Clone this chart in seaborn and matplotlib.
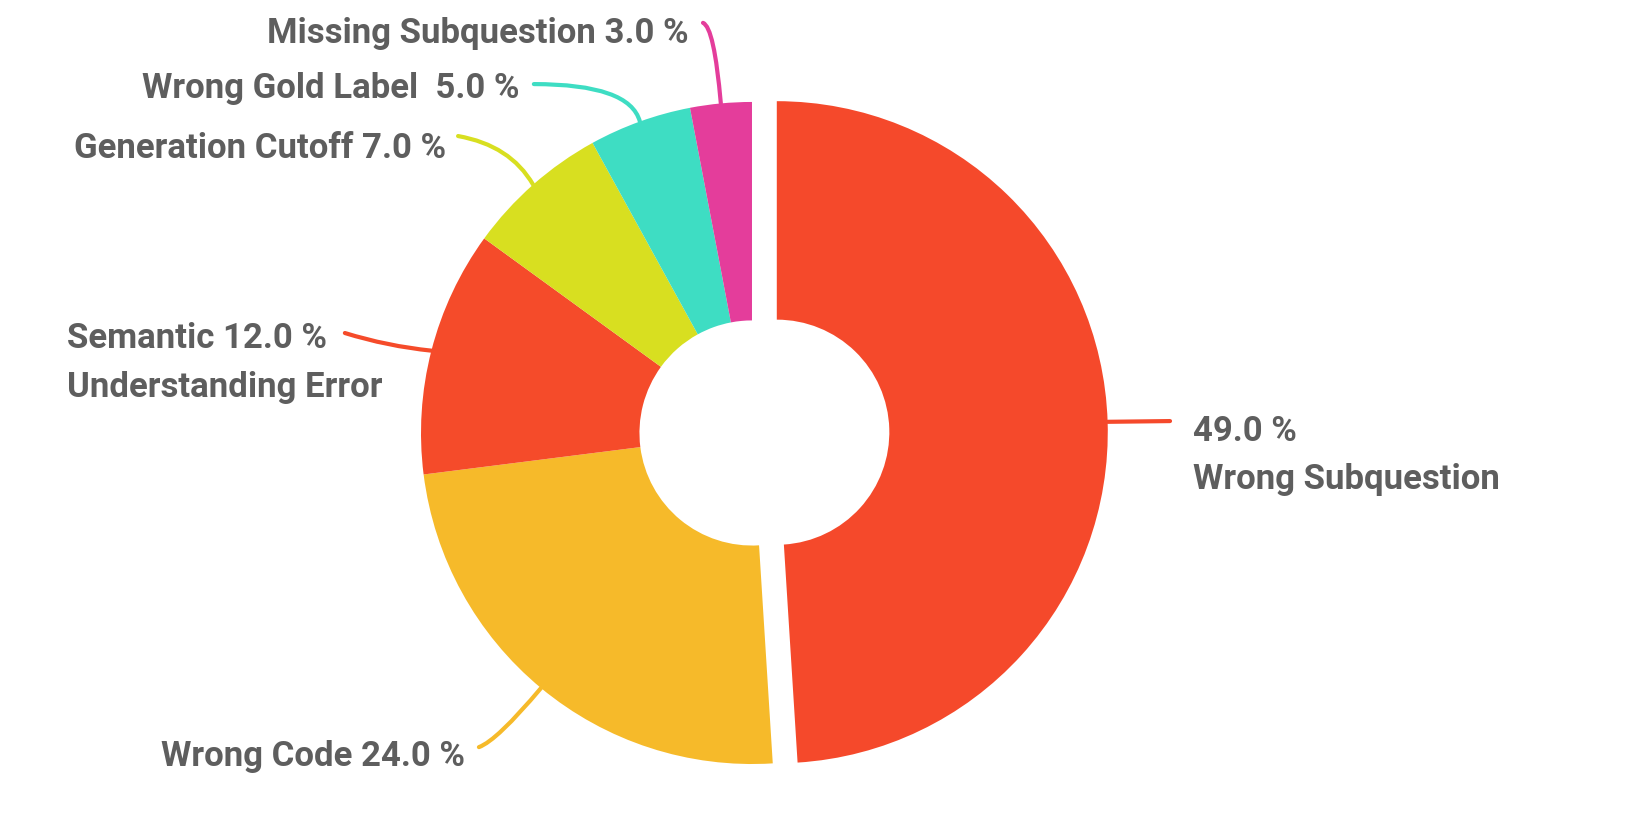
import numpy as np
import matplotlib
matplotlib.use("Agg")
import matplotlib.pyplot as plt
import seaborn as sns

# error categories, clockwise from 12 o'clock
categories = ["Wrong Subquestion", "Wrong Code", "Semantic\nUnderstanding Error",
              "Generation Cutoff", "Wrong Gold Label", "Missing Subquestion"]
shares = [49.0, 24.0, 12.0, 7.0, 5.0, 3.0]
colors = ["#F5492B", "#F6BA2A", "#F54B2A", "#D8DF20", "#3EDDC3", "#E43D9B"]

sns.set_theme(style="white")
plt.rcParams["font.family"] = ["Roboto", "DejaVu Sans"]
txt_color = "#5E5E5E"

fig = plt.figure(figsize=(16.41, 8.14), dpi=100)
ax = fig.add_axes([0, 0, 1, 1])
ax.axis("off")

wedges, _ = ax.pie(shares, colors=colors, startangle=90, counterclock=False,
                   explode=[0.075, 0, 0, 0, 0, 0],
                   wedgeprops=dict(width=0.66, linewidth=0))
ax.set_xlim(-2.272, 2.686)
ax.set_ylim(-1.151, 1.308)
ax.set_aspect("auto")

# label layout: (text x, text y, ha, text string, line end near text, connection style)
layout = [
    (1.332, -0.068, "left", "49.0 %\nWrong Subquestion", (1.263, 0.036), "arc3,rad=0"),
    (-0.867, -0.977, "right", "Wrong Code 24.0 %", (-0.825, -0.949), "angle3,angleA=20,angleB=50"),
    (-2.07, 0.212, "left", "Semantic 12.0 %\nUnderstanding Error", (-1.23, 0.302), "arc3,rad=0.05"),
    (-0.924, 0.860, "right", "Generation Cutoff 7.0 %", (-0.888, 0.897), "angle3,angleA=-10,angleB=-60"),
    (-0.701, 1.041, "right", "Wrong Gold Label  5.0 %", (-0.659, 1.054), "angle3,angleA=0,angleB=-75"),
    (-0.19, 1.208, "right", "Missing Subquestion 3.0 %", (-0.148, 1.239), "angle3,angleA=-20,angleB=-85"),
]

for w, c, (tx, ty, ha, label, lend, cs) in zip(wedges, colors, layout):
    mid = np.deg2rad((w.theta1 + w.theta2) / 2)
    cx, cy = w.center
    px, py = cx + w.r * np.cos(mid), cy + w.r * np.sin(mid)
    ax.annotate("", xy=(px, py), xytext=lend,
                arrowprops=dict(arrowstyle="-", color=c, lw=3,
                                connectionstyle=cs, shrinkA=0, shrinkB=0))
    ax.text(tx, ty, label, ha=ha, va="center", fontsize=25, fontweight="bold",
            color=txt_color, linespacing=1.6)

fig.savefig("out.png", dpi=100)
